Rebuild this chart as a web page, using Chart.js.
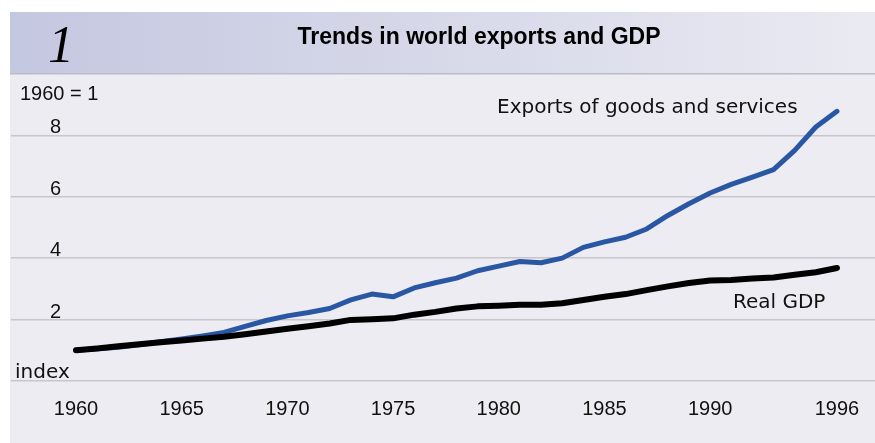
<!DOCTYPE html>
<html>
<head>
<meta charset="utf-8">
<script src="https://cdn.jsdelivr.net/npm/chart.js@4"></script>
<style>
  html, body { margin: 0; padding: 0; background: #fff; }
</style>
</head>
<body>
<canvas id="trends" width="875" height="443"></canvas>
<script>
// index, 1960 = 1
const years = [
  1960, 1961, 1962, 1963, 1964, 1965, 1966, 1967, 1968, 1969,
  1970, 1971, 1972, 1973, 1974, 1975, 1976, 1977, 1978, 1979,
  1980, 1981, 1982, 1983, 1984, 1985, 1986, 1987, 1988, 1989,
  1990, 1991, 1992, 1993, 1994, 1995, 1996
];
const exportsIndex = [
  1.00, 1.05, 1.10, 1.18, 1.28, 1.37, 1.47, 1.58, 1.78, 1.97,
  2.12, 2.23, 2.36, 2.64, 2.83, 2.74, 3.03, 3.20, 3.35, 3.59,
  3.74, 3.89, 3.85, 4.00, 4.35, 4.53, 4.68, 4.95, 5.39, 5.77,
  6.12, 6.40, 6.64, 6.88, 7.51, 8.27, 8.78
];
const gdpIndex = [
  1.00, 1.06, 1.13, 1.20, 1.26, 1.32, 1.38, 1.44, 1.52, 1.61,
  1.70, 1.78, 1.87, 1.99, 2.01, 2.04, 2.16, 2.25, 2.36, 2.43,
  2.45, 2.48, 2.48, 2.53, 2.64, 2.74, 2.83, 2.96, 3.08, 3.19,
  3.27, 3.29, 3.34, 3.37, 3.46, 3.54, 3.68
];
const yearTicks = [1960, 1965, 1970, 1975, 1980, 1985, 1990, 1996];
const indexTicks = [0, 2, 4, 6, 8];

const textFont = '20px "DejaVu Sans"';
const digitFont = '20px "Liberation Sans"';

const toPoints = (vals) => vals.map((v, i) => ({ x: years[i], y: v }));

// panel background, header band and all the loose text
const decor = {
  id: "decor",
  beforeDraw(chart) {
    const { ctx, width, height } = chart;
    ctx.save();
    ctx.fillStyle = "#ffffff";
    ctx.fillRect(0, 0, width, height);
    ctx.fillStyle = "#ececf2";
    ctx.fillRect(10, 12, width - 10, height - 12);

    const band = ctx.createLinearGradient(10, 0, width, 0);
    band.addColorStop(0, "#c4c7e0");
    band.addColorStop(1, "#eaeaf2");
    ctx.fillStyle = band;
    ctx.fillRect(10, 12, width - 10, 61);
    ctx.fillStyle = "#bcbcc8";
    ctx.fillRect(10, 73, width - 10, 1.5);

    ctx.fillStyle = "#000";
    ctx.textBaseline = "alphabetic";
    ctx.textAlign = "center";
    ctx.font = 'italic 52px "Liberation Serif"';
    ctx.fillText("1", 61, 62);
    ctx.font = 'bold 23px "Liberation Sans"';
    ctx.fillText("Trends in world exports and GDP", 479, 44);
    ctx.restore();
  },
  afterDatasetsDraw(chart) {
    const { ctx } = chart;
    const y = chart.scales.y;
    ctx.save();
    ctx.fillStyle = "#111";
    ctx.textBaseline = "alphabetic";
    ctx.textAlign = "left";

    ctx.font = digitFont;
    y.ticks.forEach((t) => {
      if (t.value === 0) return;
      ctx.fillText(String(t.value), 50, y.getPixelForValue(t.value) - 2);
    });
    ctx.fillText("1960 = 1", 20, 100);

    ctx.font = textFont;
    ctx.fillText("index", 15, y.getPixelForValue(0) - 3);
    ctx.fillText("Exports of goods and services", 497, 113);
    ctx.fillText("Real GDP", 733, 308);
    ctx.restore();
  }
};

new Chart(document.getElementById("trends"), {
  type: "line",
  data: {
    datasets: [
      {
        label: "Real GDP",
        data: toPoints(gdpIndex),
        borderColor: "#000000",
        borderWidth: 6,
        order: 0
      },
      {
        label: "Exports of goods and services",
        data: toPoints(exportsIndex),
        borderColor: "#2a57a3",
        borderWidth: 5,
        order: 1
      }
    ]
  },
  options: {
    responsive: false,
    animation: false,
    events: [],
    layout: { padding: { left: 11, right: 0, top: 80, bottom: 14 } },
    elements: {
      point: { radius: 0 },
      line: { tension: 0, borderCapStyle: "round", borderJoinStyle: "round" }
    },
    plugins: {
      legend: { display: false },
      tooltip: { enabled: false }
    },
    scales: {
      x: {
        type: "linear",
        min: 1956.925,
        max: 1997.8,
        afterBuildTicks: (axis) => {
          axis.ticks = yearTicks.map((v) => ({ value: v }));
        },
        grid: { display: false },
        border: { display: false },
        ticks: {
          padding: 8,
          color: "#111",
          font: { family: "Liberation Sans", size: 20 },
          maxRotation: 0,
          autoSkip: false,
          callback: (v) => String(v)
        }
      },
      y: {
        min: 0,
        max: 9.8,
        afterBuildTicks: (axis) => {
          axis.ticks = indexTicks.map((v) => ({ value: v }));
        },
        grid: { color: "#c6c6cc", lineWidth: 1.5, drawTicks: false },
        border: { display: false },
        ticks: { display: false }
      }
    }
  },
  plugins: [decor]
});
</script>
</body>
</html>
